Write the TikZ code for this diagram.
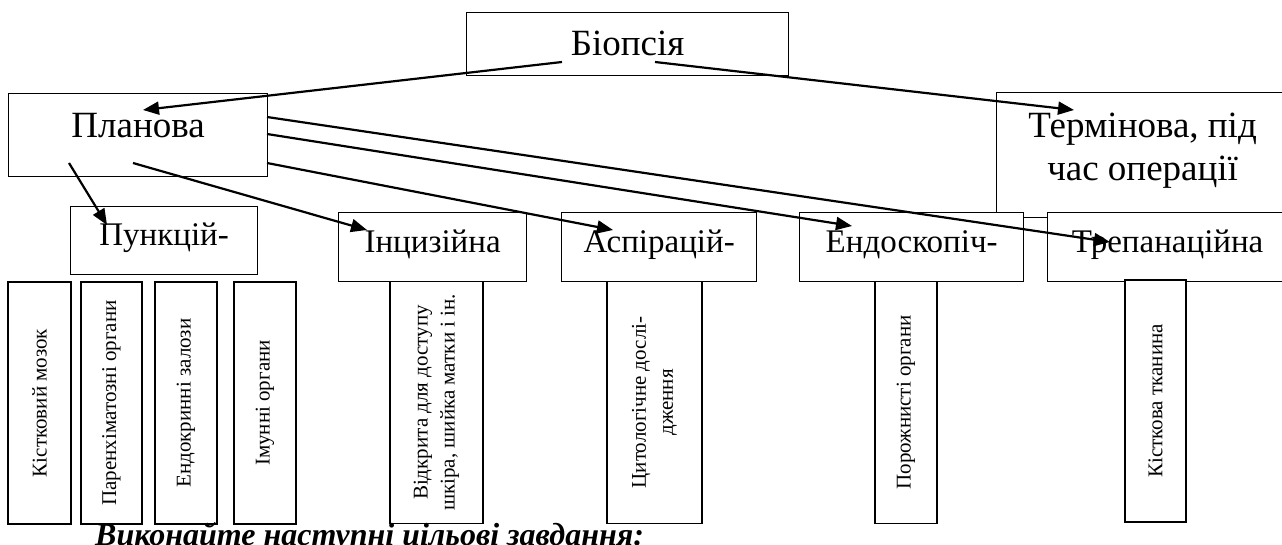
\documentclass[tikz,border=0pt]{standalone}
\usepackage{fontspec}
\setmainfont{Liberation Serif}
\usepackage{tikz}
\usetikzlibrary{arrows.meta}

\tikzset{
    blk/.style={draw, fill=white, line width=1.3pt, inner sep=0pt, anchor=north west,
        font=\fontsize{37}{43}\selectfont},
    sub/.style={blk, font=\fontsize{33}{38}\selectfont},
    vbox/.style={draw, fill=white, line width=1.3pt, rotate=90, inner sep=0pt, align=center,
        minimum width=242pt, font=\fontsize{21}{27}\selectfont},
    arr/.style={line width=2.2pt, -{Triangle[length=16pt,width=13pt]}},
}

\begin{document}
\begin{tikzpicture}[x=1pt, y=-1pt]
    \useasboundingbox (0,0) rectangle (1282,545);
    % top level
    \node[blk, minimum width=322pt, text height=43pt, text depth=20pt] (bio) at (466,12) {Біопсія};
    \node[blk, minimum width=259pt, text height=44pt, text depth=39pt] (plan) at (8,93) {Планова};
    \node[blk, minimum width=292pt, text height=88pt, text depth=37pt, align=center] (term) at (996,92) {Термінова, під\\час операції};
    % kinds of planned biopsy
    \node[sub, minimum width=187pt, text height=39pt, text depth=29pt] (punk) at (70,206) {Пункцій-};
    \node[sub, minimum width=188pt, text height=40pt, text depth=29pt] (inc) at (338,212) {Інцизійна};
    \node[sub, minimum width=195pt, text height=40pt, text depth=29pt] (asp) at (561,212) {Аспірацій-};
    \node[sub, minimum width=224pt, text height=40pt, text depth=29pt] (endo) at (799,212) {Ендоскопіч-};
    \node[sub, minimum width=240pt, text height=40pt, text depth=29pt] (trep) at (1047,212) {Трепанаційна};
    % objects
    \foreach \x/\y/\w/\t [count=\i] in {39.5/403/63/Кістковий мозок, 111.5/403/61/Паренхіматозні органи,
            186/403/62/Ендокринні залози, 265/403/62/Імунні органи,
            436.5/402.5/93/{Відкрита для доступу\\шкіра, шийка матки і ін.},
            654.5/402.5/95/{Цитологічне дослі-\\дження},
            906/402.5/62/Порожнисті органи, 1155.5/401/61/Кісткова тканина}
        \node[vbox, minimum height=\w pt] (obj\i) at (\x,\y) {\t};
    % arrows
    \coordinate (bio-l) at (562,62);
    \coordinate (bio-r) at (655,62);
    \coordinate (plan-in) at (143,110);
    \coordinate (term-in) at (1074,110);
    \coordinate (plan-a) at (69,163);
    \coordinate (plan-b) at (133,163);
    \coordinate (plan-c) at (267,163);
    \coordinate (plan-d) at (267,134);
    \coordinate (plan-e) at (267,117);
    \coordinate (punk-in) at (107,225);
    \coordinate (inc-in) at (367,230);
    \coordinate (asp-in) at (613,230);
    \coordinate (endo-in) at (852,226);
    \coordinate (trep-in) at (1110,242);
    \draw[arr] (bio-l) -- (plan-in);
    \draw[arr] (bio-r) -- (term-in);
    \draw[arr] (plan-a) -- (punk-in);
    \draw[arr] (plan-b) -- (inc-in);
    \draw[arr] (plan-c) -- (asp-in);
    \draw[arr] (plan-d) -- (endo-in);
    \draw[arr] (plan-e) -- (trep-in);
    \node[anchor=base west, inner sep=0pt, font=\fontsize{32}{38}\selectfont\bfseries\itshape] (task) at (95,545) {Виконайте наступні цільові завдання:};
\end{tikzpicture}
\end{document}
